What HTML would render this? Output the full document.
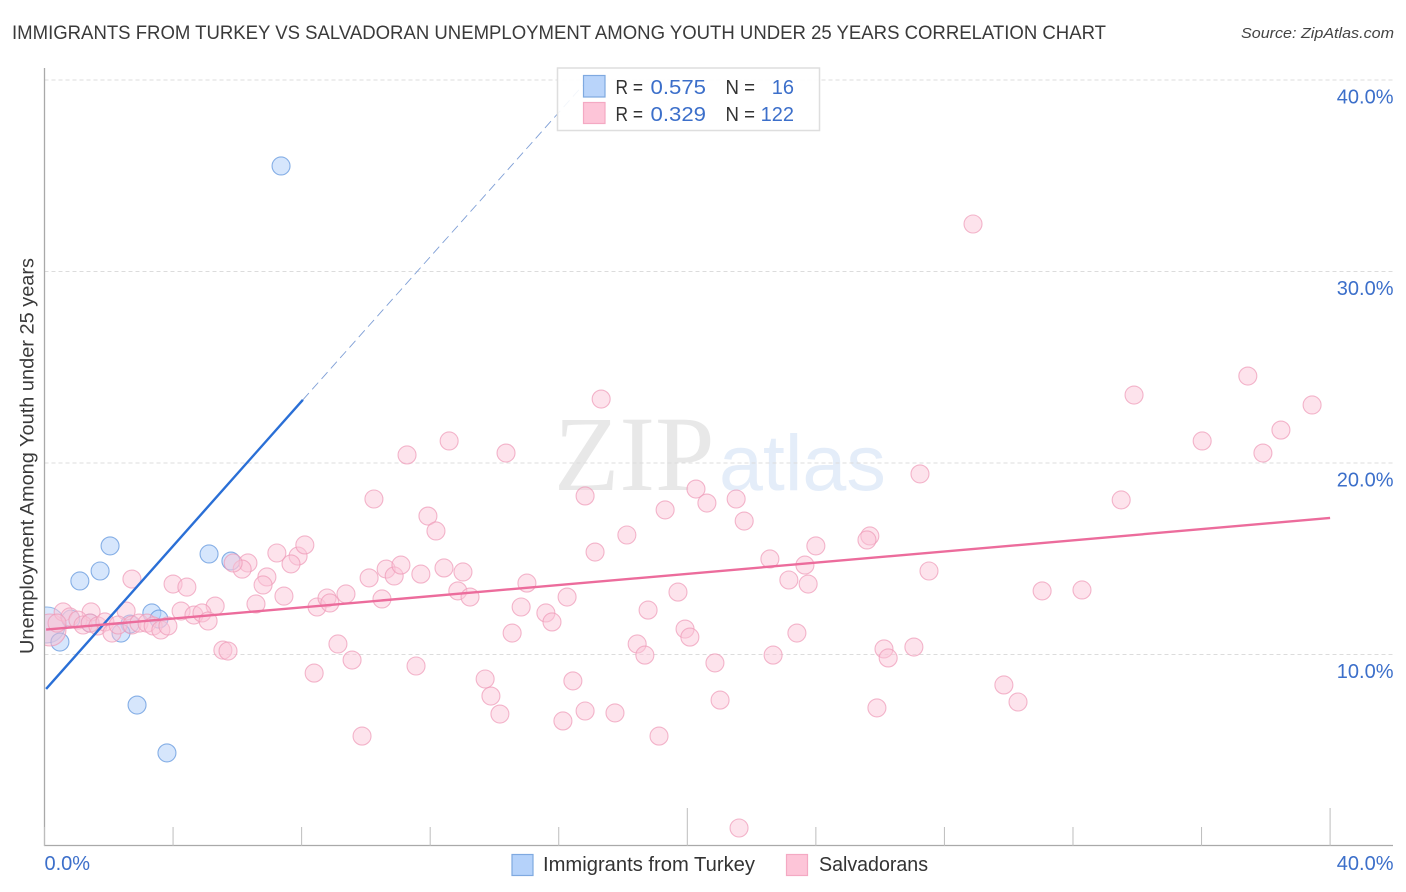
<!DOCTYPE html>
<html lang="en">
<head>
<meta charset="utf-8">
<title>Immigrants from Turkey vs Salvadoran Unemployment Among Youth under 25 years Correlation Chart</title>
<style>
  html, body { margin: 0; padding: 0; background: #fff; width: 1406px; height: 892px; overflow: hidden; }
  svg { display: block; font-family: "Liberation Sans", sans-serif; }
  .tick-label { fill: #3c6fca; font-size: 20px; }
  .dark { fill: #333; font-size: 20px; }
  .blue { fill: #3c6fca; font-size: 20px; }
</style>
</head>
<body>
<svg id="chart" xmlns="http://www.w3.org/2000/svg" width="1406" height="892" viewBox="0 0 1406 892">
  <defs>
    <clipPath id="plot-clip"><rect x="45" y="60" width="1350" height="786"/></clipPath>
  </defs>

  <text x="12" y="39" font-size="19.5" fill="#3a3a3a" textLength="1094" lengthAdjust="spacingAndGlyphs">IMMIGRANTS FROM TURKEY VS SALVADORAN UNEMPLOYMENT AMONG YOUTH UNDER 25 YEARS CORRELATION CHART</text>
  <text x="1394" y="38" font-size="15" font-style="italic" fill="#444" text-anchor="end" textLength="153" lengthAdjust="spacingAndGlyphs">Source: ZipAtlas.com</text>

  <g>
    <text x="554" y="490" font-family="'Liberation Serif', serif" font-size="107" fill="#e8e8e8">ZIP</text>
    <text x="719" y="490" font-family="'Liberation Sans', sans-serif" font-size="79" fill="#e4edf9">atlas</text>
  </g>

  <g id="grid"></g>
  <g id="axes"></g>
  <g id="points" clip-path="url(#plot-clip)"></g>
  <g id="trends" clip-path="url(#plot-clip)"></g>

  <text transform="translate(33.5,456) rotate(-90)" text-anchor="middle" font-size="19" fill="#3a3a3a" textLength="396" lengthAdjust="spacingAndGlyphs">Unemployment Among Youth under 25 years</text>

  <g>
    <rect x="557.5" y="68" width="262" height="62.5" fill="#fff" fill-opacity="0.9" stroke="#dedede" stroke-width="1.5"/>
    <rect x="583.5" y="75.5" width="21.5" height="21.5" fill="#b5d2fa" fill-opacity="0.95" stroke="#7fa9e0" stroke-width="1.2"/>
    <rect x="583.5" y="102.5" width="21.5" height="21" fill="#fdc5d8" stroke="#f4a9c3" stroke-width="1.2"/>
    <text class="dark" x="615.5" y="94" textLength="27.5" lengthAdjust="spacingAndGlyphs">R =</text>
    <text class="blue" x="650.5" y="94" textLength="55.5" lengthAdjust="spacingAndGlyphs">0.575</text>
    <text class="dark" x="725.5" y="94" textLength="29.5" lengthAdjust="spacingAndGlyphs">N =</text>
    <text class="blue" x="794" y="94" text-anchor="end">16</text>
    <text class="dark" x="615.5" y="121" textLength="27.5" lengthAdjust="spacingAndGlyphs">R =</text>
    <text class="blue" x="650.5" y="121" textLength="55.5" lengthAdjust="spacingAndGlyphs">0.329</text>
    <text class="dark" x="725.5" y="121" textLength="29.5" lengthAdjust="spacingAndGlyphs">N =</text>
    <text class="blue" x="794" y="121" text-anchor="end">122</text>
  </g>

  <g>
    <rect x="512" y="854.5" width="21" height="21" fill="#b5d2fa" stroke="#7fa9e0" stroke-width="1.2"/>
    <text class="dark" x="543" y="871" textLength="212" lengthAdjust="spacingAndGlyphs">Immigrants from Turkey</text>
    <rect x="786.5" y="854.5" width="21" height="21" fill="#fdc5d8" stroke="#f4a9c3" stroke-width="1.2"/>
    <text class="dark" x="819" y="871" textLength="109" lengthAdjust="spacingAndGlyphs">Salvadorans</text>
  </g>
</svg>

<script>
// ---- data (percent values) ----
const yTickValues = [10, 20, 30, 40];
const yTickLabels = ["10.0%", "20.0%", "30.0%", "40.0%"];
const xTickValues = [0, 4, 8, 12, 16, 20, 24, 28, 32, 36, 40];
const xMajorTicks = [20, 40];
const xEndValues = [0, 40];
const xEndLabels = ["0.0%", "40.0%"];

const turkeyX = [7.36, 2.04, 1.73, 1.10, 5.12, 5.80, 3.34, 3.56, 2.66, 2.38, 2.88, 3.81, 0.48, 0.82, 1.42];
const turkeyY = [35.51, 15.67, 14.36, 13.84, 15.25, 14.88, 12.17, 11.85, 11.59, 11.12, 7.36, 4.86, 10.65, 11.85, 11.64];
const turkeyLargeX = [0.08];
const turkeyLargeY = [11.54];

const salvadoranX = [28.89, 37.44, 33.90, 39.44, 38.47, 36.02, 37.91, 33.50, 27.24, 17.32, 12.59, 14.36, 11.28, 10.25, 16.82, 20.27, 21.52, 20.61, 19.31, 21.77, 11.93, 12.18, 18.12, 17.13, 25.68, 25.59, 24.00, 22.57, 23.66, 23.16, 23.76, 27.52, 31.04, 32.28, 19.71, 18.78, 16.26, 15.01, 14.83, 15.60, 15.79, 14.55, 19.93, 20.08, 23.41, 18.44, 18.68, 22.67, 26.12, 26.25, 27.05, 20.86, 29.85, 30.29, 25.90, 21.02, 19.12, 17.75, 16.82, 16.13, 16.44, 14.17, 13.89, 13.71, 11.56, 9.88, 9.57, 9.13, 8.39, 21.61, 5.55, 5.71, 2.72, 4.00, 4.43, 5.31, 4.25, 4.65, 4.90, 5.09, 6.58, 6.33, 6.15, 5.87, 6.92, 6.80, 7.23, 7.89, 8.10, 7.67, 7.45, 8.48, 8.79, 8.88, 9.38, 10.10, 10.50, 10.63, 10.88, 11.09, 11.71, 12.43, 13.02, 12.86, 13.24, 2.54, 1.45, 0.58, 0.79, 1.04, 1.20, 1.42, 1.66, 1.88, 2.10, 2.29, 2.72, 2.94, 3.19, 3.38, 3.62, 3.84, 0.39];
const salvadoranY = [32.48, 24.54, 23.55, 23.03, 21.72, 21.15, 20.52, 18.07, 19.43, 23.34, 21.15, 20.52, 20.42, 18.12, 18.28, 18.64, 18.12, 17.91, 17.55, 16.97, 17.23, 16.45, 16.24, 15.35, 16.19, 15.98, 15.67, 14.99, 14.67, 13.89, 13.68, 14.36, 13.32, 13.37, 13.26, 12.32, 13.00, 13.73, 12.48, 12.17, 11.70, 11.12, 11.33, 10.91, 11.12, 10.55, 9.97, 9.97, 10.29, 9.82, 10.39, 9.56, 8.41, 7.52, 7.21, 7.62, 5.74, 6.95, 7.05, 6.53, 8.62, 6.89, 7.83, 8.72, 9.40, 5.74, 9.71, 10.55, 9.03, 0.94, 10.23, 10.18, 13.94, 13.68, 13.52, 12.53, 12.27, 12.06, 12.17, 11.75, 12.64, 14.78, 14.46, 14.78, 14.05, 13.63, 15.30, 15.14, 15.72, 14.73, 13.05, 12.48, 12.95, 12.69, 13.16, 14.00, 12.90, 14.46, 14.10, 14.67, 14.20, 14.52, 14.31, 13.32, 13.00, 12.27, 12.22, 12.22, 11.96, 11.80, 11.54, 11.64, 11.49, 11.70, 11.12, 11.54, 11.54, 11.64, 11.64, 11.49, 11.28, 11.49, 11.64];
const salvadoranLargeX = [0.17];
const salvadoranLargeY = [11.28];

const turkeyTrendSolidX = [0.05, 8.04];
const turkeyTrendSolidY = [8.2, 23.3];
const turkeyTrendDashedX = [8.04, 16.9];
const turkeyTrendDashedY = [23.3, 40];
const salvadoranTrendX = [0.05, 40];
const salvadoranTrendY = [11.3, 17.13];

// ---- axis functions ----
const SVGNS = "http://www.w3.org/2000/svg";
function xScale(v) { return 44.5 + v * 32.14; }
function yScale(v) { return 846 - v * 19.15; }
function make(tag, attrs, parent) {
  const el = document.createElementNS(SVGNS, tag);
  for (const k in attrs) el.setAttribute(k, attrs[k]);
  parent.appendChild(el);
  return el;
}

const gridG = document.getElementById("grid");
const axesG = document.getElementById("axes");
const pointsG = document.getElementById("points");
const trendsG = document.getElementById("trends");

// gridlines and y labels
yTickValues.forEach(function (v, i) {
  const line = make("line", { x1: 44.5, x2: 1393, y1: yScale(v), y2: yScale(v), stroke: "#dcdcdc", "stroke-width": 1, "stroke-dasharray": "4 3" }, gridG);
  
  
  const label = make("text", { x: 1393.5, y: yScale(v) + 23.5, "text-anchor": "end", class: "tick-label" }, axesG);
  
  
  label.textContent = yTickLabels[i];
});

// axis lines
const yAxis = make("line", { x1: 44.5, x2: 44.5, y1: 68, y2: 846, stroke: "#a9a9a9", "stroke-width": 1.3 }, axesG);


const xAxis = make("line", { x1: 44, x2: 1393, y1: 845.5, y2: 845.5, stroke: "#a9a9a9", "stroke-width": 1.3 }, axesG);



// x ticks
xTickValues.forEach(function (v) {
  const top = xMajorTicks.indexOf(v) >= 0 ? 808 : 827;
  const tick = make("line", { x1: xScale(v), x2: xScale(v), y1: top, y2: 846, stroke: "#bdbdbd", "stroke-width": 1 }, axesG);
  
  
});

// x end labels
xEndValues.forEach(function (v, i) {
  const atEnd = v > 0;
  const label = make("text", { x: atEnd ? 1393.5 : xScale(v), y: 870, "text-anchor": atEnd ? "end" : "start", class: "tick-label" }, axesG);
  
  
  label.textContent = xEndLabels[i];
});

// points
function drawSeries(xs, ys, r, fill, fillOpacity, stroke, name) {
  xs.forEach(function (x, i) {
    const c = make("circle", { cx: xScale(x), cy: yScale(ys[i]), r: r, fill: fill, "fill-opacity": fillOpacity, stroke: stroke, "stroke-opacity": 0.7, "stroke-width": 1.1 }, pointsG);
    
    
  });
}
drawSeries(turkeyLargeX, turkeyLargeY, 18, "#b5d2fa", 0.5, "#6a9ee0", "turkey-point");
drawSeries(turkeyX, turkeyY, 9, "#b5d2fa", 0.55, "#5a92dc", "turkey-point");
drawSeries(salvadoranLargeX, salvadoranLargeY, 16, "#f9bdd2", 0.5, "#ee98b6", "salvadoran-point");
drawSeries(salvadoranX, salvadoranY, 9, "#fbc4d7", 0.48, "#ee98b6", "salvadoran-point");

// trend lines
const blueSolid = make("line", { x1: xScale(turkeyTrendSolidX[0]), y1: yScale(turkeyTrendSolidY[0]), x2: xScale(turkeyTrendSolidX[1]), y2: yScale(turkeyTrendSolidY[1]), stroke: "#2a6fd6", "stroke-width": 2.4 }, trendsG);


const blueDashed = make("line", { x1: xScale(turkeyTrendDashedX[0]), y1: yScale(turkeyTrendDashedY[0]), x2: xScale(turkeyTrendDashedX[1]), y2: yScale(turkeyTrendDashedY[1]), stroke: "#7f9fd6", "stroke-width": 0.9, "stroke-dasharray": "9 5" }, trendsG);


const pinkLine = make("line", { x1: xScale(salvadoranTrendX[0]), y1: yScale(salvadoranTrendY[0]), x2: xScale(salvadoranTrendX[1]), y2: yScale(salvadoranTrendY[1]), stroke: "#ec6c9c", "stroke-width": 2.4 }, trendsG);


</script>
</body>
</html>
